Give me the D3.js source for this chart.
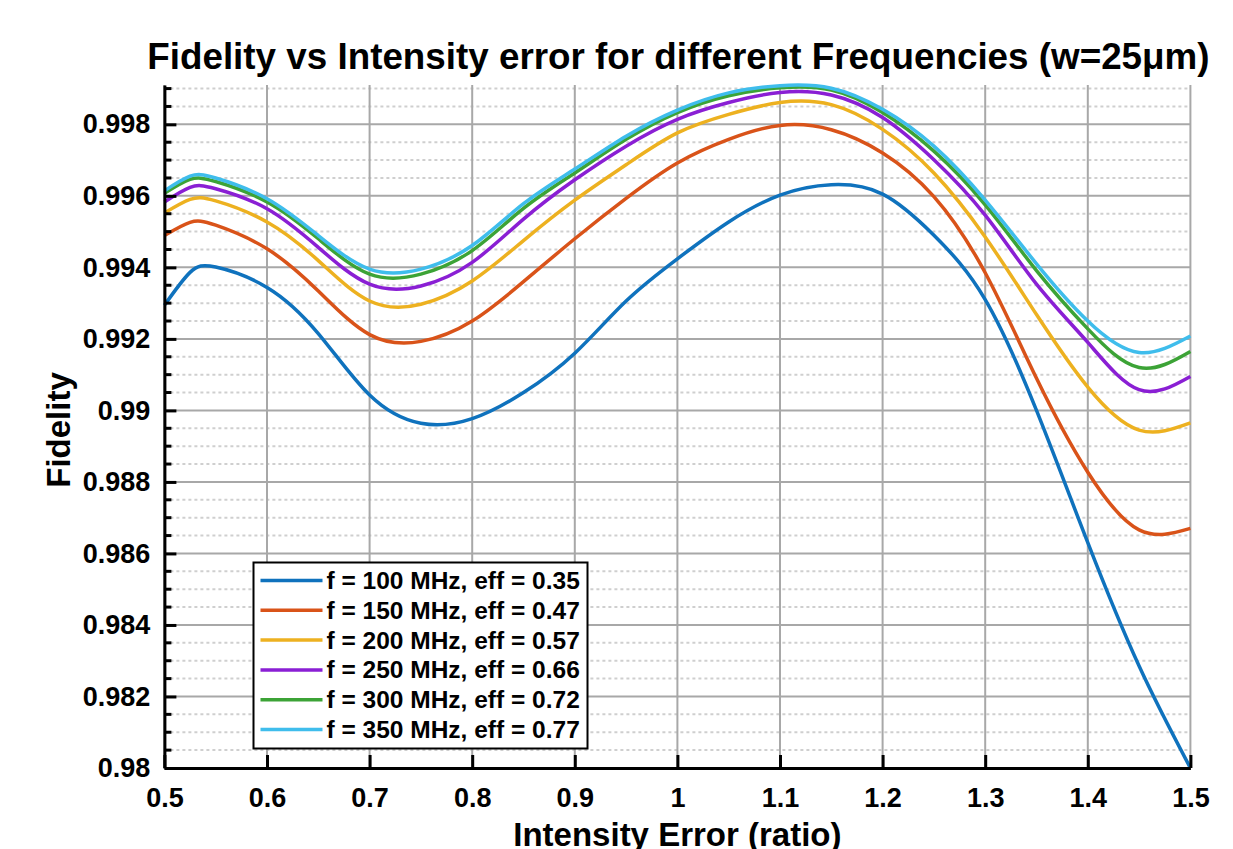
<!DOCTYPE html>
<html>
<head>
<meta charset="utf-8">
<script src="https://cdn.jsdelivr.net/npm/d3@7"></script>
<style>
  body { margin: 0; background: #fff; }
  text { font-family: "Liberation Sans", Arial, sans-serif; font-weight: bold; fill: #000; }
</style>
</head>
<body>
<svg id="chart"></svg>
<script>
// intensity error ratio (shared x for all series)
const ratio = [0.5, 0.525, 0.55, 0.6, 0.65, 0.7, 0.75, 0.8, 0.85, 0.9, 0.95, 1.0,
  1.05, 1.1, 1.15, 1.2, 1.25, 1.3, 1.35, 1.4, 1.45, 1.5];

const f100 = [0.99294, 0.99386, 0.99401, 0.99344, 0.99215, 0.99043, 0.98964, 0.98977, 0.99050, 0.99160, 0.99306, 0.99424,
  0.99527, 0.99602, 0.99631, 0.99605, 0.99490, 0.99310, 0.99000, 0.98630, 0.98285, 0.98000];
const f150 = [0.99489, 0.99526, 0.99518, 0.99452, 0.99334, 0.99212, 0.99193, 0.99250, 0.99360, 0.99480, 0.99593, 0.99692,
  0.99758, 0.99797, 0.99785, 0.99720, 0.99598, 0.99385, 0.99090, 0.98827, 0.98666, 0.98670];
const f200 = [0.99552, 0.99590, 0.99586, 0.99527, 0.99419, 0.99306, 0.99297, 0.99362, 0.99475, 0.99588, 0.99687, 0.99776,
  0.99828, 0.99861, 0.99855, 0.99786, 0.99664, 0.99485, 0.99268, 0.99065, 0.98945, 0.98965];
const f250 = [0.99583, 0.99624, 0.99620, 0.99564, 0.99456, 0.99353, 0.99348, 0.99414, 0.99535, 0.99645, 0.99739, 0.99814,
  0.99861, 0.99889, 0.99882, 0.99819, 0.99701, 0.99546, 0.99353, 0.99190, 0.99058, 0.99095];
const f300 = [0.99607, 0.99646, 0.99640, 0.99583, 0.99480, 0.99381, 0.99381, 0.99447, 0.99565, 0.99664, 0.99758, 0.99833,
  0.99880, 0.99902, 0.99896, 0.99833, 0.99725, 0.99575, 0.99391, 0.99228, 0.99120, 0.99165];
const f350 = [0.99614, 0.99655, 0.99650, 0.99592, 0.99489, 0.99395, 0.99395, 0.99461, 0.99578, 0.99675, 0.99767, 0.99840,
  0.99888, 0.99908, 0.99901, 0.99842, 0.99739, 0.99588, 0.99410, 0.99250, 0.99162, 0.99208];

const seriesNames = ["f = 100 MHz, eff = 0.35", "f = 150 MHz, eff = 0.47", "f = 200 MHz, eff = 0.57",
  "f = 250 MHz, eff = 0.66", "f = 300 MHz, eff = 0.72", "f = 350 MHz, eff = 0.77"];
const seriesValues = [f100, f150, f200, f250, f300, f350];
const colors = ["#0f72bd", "#d95319", "#edb120", "#8a1fd4", "#3ca336", "#3fbdec"];

const xTicks = [0.5, 0.6, 0.7, 0.8, 0.9, 1, 1.1, 1.2, 1.3, 1.4, 1.5];
const yTicks = [0.98, 0.982, 0.984, 0.986, 0.988, 0.99, 0.992, 0.994, 0.996, 0.998];

const W = 1233, H = 849;
const margin = {left: 164.4, right: 42.6, top: 85, bottom: 81};
const iw = W - margin.left - margin.right, ih = H - margin.top - margin.bottom;

const svg = d3.select("#chart").attr("width", W).attr("height", H);
const g = svg.append("g").attr("transform", `translate(${margin.left},${margin.top})`);

const x = d3.scaleLinear().domain([0.5, 1.5]).range([0, iw]);
const y = d3.scaleLinear().domain([0.98, 0.9991]).range([ih, 0]);

// minor y grid (dotted)
const minorY = d3.range(0.9805, 0.9991, 0.0005).filter(v => Math.abs(Math.round(v / 0.002) * 0.002 - v) > 1e-6);
g.append("g").selectAll("line").data(minorY).join("line")
  .attr("x1", 0).attr("x2", iw)
  .attr("y1", d => y(d)).attr("y2", d => y(d))
  .attr("stroke", "#cfcfcf").attr("stroke-width", 2).attr("stroke-dasharray", "3,3");

// major grid
g.append("g").selectAll("line").data(yTicks).join("line")
  .attr("x1", 0).attr("x2", iw)
  .attr("y1", d => y(d)).attr("y2", d => y(d))
  .attr("stroke", "#a8a8a8").attr("stroke-width", 2);
g.append("g").selectAll("line").data(xTicks).join("line")
  .attr("x1", d => x(d)).attr("x2", d => x(d))
  .attr("y1", 0).attr("y2", ih)
  .attr("stroke", "#a8a8a8").attr("stroke-width", 2);

// curves
const line = d3.line().x((d, i) => x(ratio[i])).y(d => y(d)).curve(d3.curveNatural);
g.append("g").selectAll("path").data(seriesValues).join("path")
  .attr("d", d => line(d))
  .attr("fill", "none")
  .attr("stroke", (d, i) => colors[i])
  .attr("stroke-width", 3.5);

// axes
const xAxis = d3.axisBottom(x).tickValues(xTicks).tickSizeInner(-13).tickSizeOuter(0)
  .tickPadding(20).tickFormat(d3.format("~g"));
const xg = g.append("g").attr("transform", `translate(0,${ih})`).call(xAxis);
const yAxis = d3.axisLeft(y).tickValues(yTicks).tickSizeInner(-12).tickSizeOuter(0)
  .tickPadding(14).tickFormat(d3.format("~g"));
const yg = g.append("g").call(yAxis);
yg.append("g").selectAll("line").data(minorY).join("line")
  .attr("x1", 0).attr("x2", 7).attr("y1", d => y(d)).attr("y2", d => y(d))
  .attr("stroke", "#000").attr("stroke-width", 3);
[xg, yg].forEach(a => {
  a.select(".domain").attr("stroke", "#000").attr("stroke-width", 3);
  a.selectAll(".tick line").attr("stroke", "#000").attr("stroke-width", 3);
  a.selectAll(".tick text").attr("font-size", 27).attr("font-family", null).attr("fill", "#000");
});

// titles
svg.append("text").attr("x", margin.left + iw / 2 + 1).attr("y", 69)
  .attr("text-anchor", "middle").attr("font-size", 36.8)
  .text("Fidelity vs Intensity error for different Frequencies (w=25μm)");
svg.append("text").attr("x", margin.left + iw / 2).attr("y", 846)
  .attr("text-anchor", "middle").attr("font-size", 33)
  .text("Intensity Error (ratio)");
svg.append("text").attr("transform", "rotate(-90)")
  .attr("x", -430).attr("y", 70)
  .attr("text-anchor", "middle").attr("font-size", 33)
  .text("Fidelity");

// legend
const lg = svg.append("g").attr("transform", "translate(253.5,562.5)");
lg.append("rect").attr("width", 334).attr("height", 186)
  .attr("fill", "#fff").attr("stroke", "#000").attr("stroke-width", 2);
const items = lg.selectAll("g.item").data(seriesNames).join("g")
  .attr("transform", (d, i) => `translate(0,${18 + i * 29.8})`);
items.append("line").attr("x1", 7).attr("x2", 69)
  .attr("stroke", (d, i) => colors[i]).attr("stroke-width", 3.5);
items.append("text").attr("x", 73).attr("y", 8.5).attr("font-size", 24.5).text(d => d);
</script>
</body>
</html>
